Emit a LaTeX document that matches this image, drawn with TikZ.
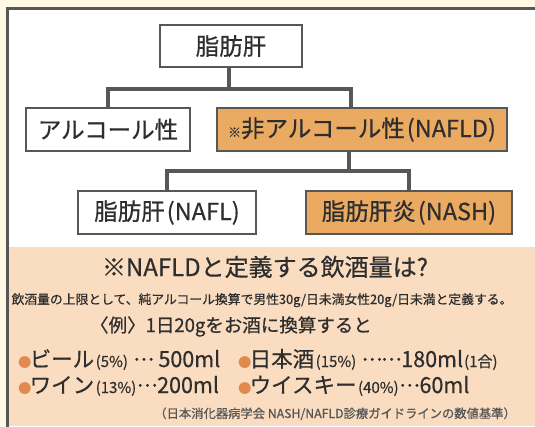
\documentclass[tikz,border=0pt]{standalone}
\usepackage{fontspec}
\setmainfont{Noto Sans CJK JP}[FakeBold=0.6, Language=Japanese]
\usetikzlibrary{calc}
\definecolor{cream}{HTML}{FFF9E4}
\definecolor{frame}{HTML}{575757}
\definecolor{beige}{HTML}{FADDC0}
\definecolor{orange}{HTML}{EBAA62}
\definecolor{ink}{HTML}{2E2E2E}
\definecolor{dotc}{HTML}{E2894F}
\definecolor{note}{HTML}{555555}
\tikzset{
%Define style for the boxes of the tree
box/.style={draw=frame, line width=1.8pt, fill=white, text=ink, inner sep=0pt,
  minimum height=43pt, font=\fontsize{23.5}{23}\selectfont},
orangebox/.style={box, fill=orange},
%Define style for the lines between boxes
conn/.style={draw=frame, line width=4pt},
%Text in the lower panel
txt/.style={inner sep=0pt, text=ink},
drink/.style={txt, anchor=base west, font=\fontsize{21.5}{21}\selectfont},
}
\newcommand{\bul}{{\fontsize{13}{13}\selectfont\color{dotc}\kern-1pt●\kern-1.5pt}}
\newcommand{\pct}[1]{{\fontsize{15}{15}\selectfont\kern1.5pt(#1)\kern1.5pt}}
\newcommand{\dts}{\makebox[0.9em]{\raisebox{0.3em}{.\kern1.2pt.\kern1.2pt.}}}

\begin{document}
\begin{tikzpicture}[x=1pt,y=-1pt]

    % background and frame
    \useasboundingbox (0,0) rectangle (535,426);
    \fill[cream] (0,0) rectangle (535,426);
    \fill[white] (8,9) rectangle (535,247);
    \fill[beige] (8,247) rectangle (535,426);
    \draw[frame, line width=3pt] (7.5,440) -- (7.5,8.5) -- (545,8.5);

    % tree
    \node[box, minimum width=142pt, minimum height=42pt] (fl) at (231,46) {脂肪肝};
    \node[box, minimum width=164pt] (alc) at (108,129.5) {アルコール性};
    \node[orangebox, minimum width=290pt] (nafld) at (362,129.5)
      {{\fontsize{13}{13}\selectfont ※}非アルコール性\kern2pt(NAFLD)};
    \node[box, minimum width=178pt] (nafl) at (167,212.5) {脂肪肝\kern2pt(NAFL)};
    \node[orangebox, minimum width=206pt] (nash) at (409,212.5) {脂肪肝炎\kern2pt(NASH)};

    % connections
    \coordinate (b1) at (229,89);
    \coordinate (r1) at (351,89);
    \draw[conn] (fl.south -| b1) -- (b1);
    \draw[conn] (alc.north) |- (r1) -- (r1 |- nafld.north);
    \coordinate (b2) at (349,171);
    \draw[conn] (nafld.south -| b2) -- (b2);
    \draw[conn] (nafl.north) |- (b2) -| (nash.north);

    % lower panel
    \node[txt, anchor=base, font=\fontsize{24}{24}\selectfont] (title) at (265,276)
      {※NAFLDと定義する飲酒量は?};
    \node[txt, anchor=base, font=\fontsize{12.8}{13}\selectfont] (limit) at (262,304)
      {飲酒量の上限として、純アルコール換算で男性30g/日未満女性20g/日未満と定義する。};
    \node[txt, anchor=base, font=\fontsize{18.5}{18}\selectfont] (ex) at (231,332)
      {〈例〉1日20gをお酒に換算すると};
    \node[drink] (beer) at (19,367) {\bul ビール\pct{5\%} \dts\ 500ml};
    \node[drink] (sake) at (239,367)
      {\bul 日本酒\pct{15\%} \dts\dts 180ml{\fontsize{15}{15}\selectfont\kern1pt(1合)}};
    \node[drink] (wine) at (19,393) {\bul ワイン\pct{13\%}\dts 200ml};
    \node[drink] (whisky) at (239,393) {\bul ウイスキー\pct{40\%}\dts 60ml};
    \node[inner sep=0pt, text=note, anchor=base east, font=\fontsize{12.3}{12}\selectfont] (src) at (516,418)
      {（日本消化器病学会 NASH/NAFLD診療ガイドラインの数値基準）};

\end{tikzpicture}
\end{document}
